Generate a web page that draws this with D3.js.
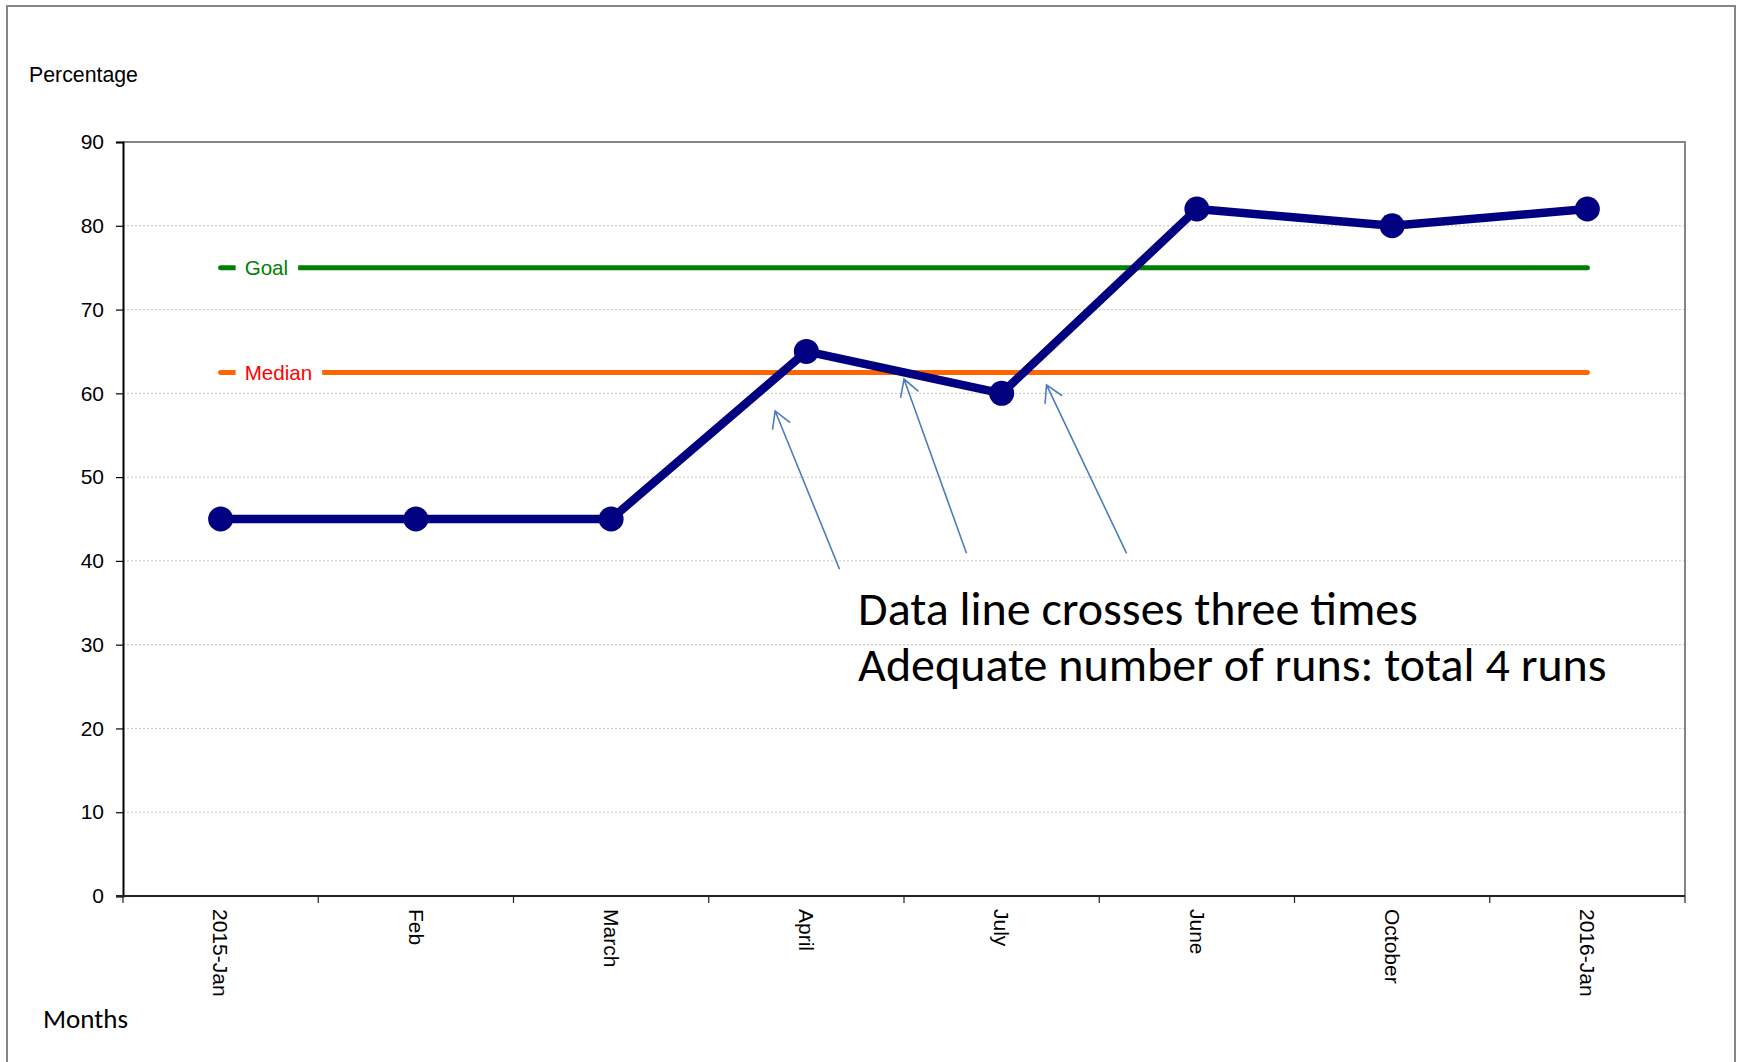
<!DOCTYPE html>
<html>
<head>
<meta charset="utf-8">
<script src="https://cdn.jsdelivr.net/npm/d3@7"></script>
<style>
  body { margin: 0; background: #fff; }
  svg { display: block; }
</style>
</head>
<body>
<div id="chart"></div>
<script>
// data
const months = ["2015-Jan", "Feb", "March", "April", "July", "June", "October", "2016-Jan"];
const percentage = [45, 45, 45, 65, 60, 82, 80, 82];
const goal = [75, 75, 75, 75, 75, 75, 75, 75];
const median = [62.5, 62.5, 62.5, 62.5, 62.5, 62.5, 62.5, 62.5];
const yTicks = [0, 10, 20, 30, 40, 50, 60, 70, 80, 90];
// arrows: [tail index, tail value, tip index, tip value] (index in category units)
const arrows = [
    [3.67, 39.0, 3.34, 57.9],
    [4.32, 40.9, 4.0, 61.7],
    [5.14, 40.9, 4.73, 61.0]
];
const noteLines = ["Data line crosses three times", "Adequate number of runs: total 4 runs"];

const W = 1739, H = 1062;
const margin = { top: 142, right: 54, bottom: 166, left: 123 };

const svg = d3.select("#chart").append("svg")
    .attr("width", W)
    .attr("height", H);

// outer frame
svg.append("rect")
    .attr("x", 7).attr("y", 6)
    .attr("width", 1728).attr("height", H + 10)
    .attr("fill", "none")
    .attr("stroke", "#868686")
    .attr("stroke-width", 2);

const x = d3.scaleBand()
    .domain(months)
    .range([margin.left, W - margin.right])
    .padding(0);

const y = d3.scaleLinear()
    .domain([0, 90])
    .range([H - margin.bottom, margin.top]);

// position in category units (used for annotations)
const xi = i => x.range()[0] + i * x.step();
const cx = d => x(d) + x.bandwidth() / 2;

// grid
svg.append("g")
    .selectAll("line")
    .data(yTicks.filter(t => t > 0 && t < 90))
    .join("line")
    .attr("x1", x.range()[0]).attr("x2", x.range()[1])
    .attr("y1", d => y(d)).attr("y2", d => y(d))
    .attr("stroke", "#c4c4c4")
    .attr("stroke-width", 1)
    .attr("stroke-dasharray", "2,2");

// plot border (top/right)
svg.append("path")
    .attr("d", `M${x.range()[0]},${y(90)}H${x.range()[1]}V${y(0)}`)
    .attr("fill", "none")
    .attr("stroke", "#868686")
    .attr("stroke-width", 2);

// y axis
const yAxis = svg.append("g")
    .attr("transform", `translate(${margin.left},0)`)
    .call(d3.axisLeft(y).tickValues(yTicks).tickSize(7).tickPadding(12));
yAxis.select(".domain").attr("stroke", "#000").attr("stroke-width", 2);
yAxis.selectAll(".tick line").attr("stroke", "#000").attr("stroke-width", 1.2);
yAxis.selectAll(".tick text")
    .attr("font-family", "Arial, 'Liberation Sans', sans-serif")
    .attr("font-size", 21)
    .attr("fill", "#000");

// x axis
const xAxisG = svg.append("g");
xAxisG.append("line")
    .attr("x1", x.range()[0] - 7).attr("x2", x.range()[1])
    .attr("y1", y(0)).attr("y2", y(0))
    .attr("stroke", "#222")
    .attr("stroke-width", 2);
xAxisG.selectAll(".xtick")
    .data(months.concat(["end"]))
    .join("line")
    .attr("class", "xtick")
    .attr("x1", (d, i) => xi(i)).attr("x2", (d, i) => xi(i))
    .attr("y1", y(0)).attr("y2", y(0) + 7)
    .attr("stroke", "#222")
    .attr("stroke-width", 1.2);
xAxisG.selectAll(".xlabel")
    .data(months)
    .join("text")
    .attr("class", "xlabel")
    .attr("transform", d => `translate(${cx(d)},${y(0) + 13}) rotate(90)`)
    .attr("dy", "0.35em")
    .attr("font-family", "Arial, 'Liberation Sans', sans-serif")
    .attr("font-size", 21)
    .text(d => d);

// axis titles
svg.append("text")
    .attr("x", 29).attr("y", 82)
    .attr("font-family", "Arial, 'Liberation Sans', sans-serif")
    .attr("font-size", 21.3)
    .text("Percentage");

svg.append("text")
    .attr("x", 43).attr("y", 1028)
    .attr("font-family", "Carlito, Calibri, Lato, sans-serif")
    .attr("font-size", 27)
    .text("Months");

// reference lines with labels
const refLine = (vals, color, label, labelColor) => {
    const line = d3.line().x((d, i) => cx(months[i])).y(d => y(d));
    svg.append("path")
        .datum(vals)
        .attr("d", line)
        .attr("fill", "none")
        .attr("stroke", color)
        .attr("stroke-width", 5)
        .attr("stroke-linecap", "round");
    const g = svg.append("g");
    const bg = g.append("rect").attr("fill", "#fff");
    const t = g.append("text")
        .attr("x", cx(months[0]) + 24)
        .attr("y", y(vals[0]))
        .attr("dy", "0.36em")
        .attr("font-family", "Arial, 'Liberation Sans', sans-serif")
        .attr("font-size", 20.6)
        .attr("fill", labelColor)
        .text(label);
    const w = t.node().getComputedTextLength();
    bg.attr("x", cx(months[0]) + 15)
        .attr("y", y(vals[0]) - 5)
        .attr("width", w + 19)
        .attr("height", 10);
};
refLine(goal, "#008000", "Goal", "#008000");
refLine(median, "#ff6600", "Median", "#ff0000");

// data series
svg.append("path")
    .datum(percentage)
    .attr("d", d3.line().x((d, i) => cx(months[i])).y(d => y(d)))
    .attr("fill", "none")
    .attr("stroke", "#000080")
    .attr("stroke-width", 8.5)
    .attr("stroke-linejoin", "round");

svg.append("g")
    .selectAll("circle")
    .data(percentage)
    .join("circle")
    .attr("cx", (d, i) => cx(months[i]))
    .attr("cy", d => y(d))
    .attr("r", 12.5)
    .attr("fill", "#000080");

// arrows
const arrowG = svg.append("g")
    .attr("stroke", "#4a7ebb")
    .attr("stroke-width", 1.6)
    .attr("fill", "none");
arrows.forEach(a => {
    const x1 = xi(a[0]), y1 = y(a[1]), x2 = xi(a[2]), y2 = y(a[3]);
    const ang = Math.atan2(y1 - y2, x1 - x2);
    const len = 19, spread = Math.PI / 6;
    const p1 = [x2 + len * Math.cos(ang - spread), y2 + len * Math.sin(ang - spread)];
    const p2 = [x2 + len * Math.cos(ang + spread), y2 + len * Math.sin(ang + spread)];
    arrowG.append("path")
        .attr("d", `M${x1},${y1}L${x2},${y2}M${p1[0]},${p1[1]}L${x2},${y2}L${p2[0]},${p2[1]}`);
});

// annotation text
svg.append("g")
    .selectAll("text")
    .data(noteLines)
    .join("text")
    .attr("x", xi(3.765))
    .attr("y", (d, i) => y(32.3) + i * 56)
    .attr("font-family", "Carlito, Calibri, Lato, sans-serif")
    .attr("font-size", 48)
    .attr("fill", "#000")
    .text(d => d);
</script>
</body>
</html>
